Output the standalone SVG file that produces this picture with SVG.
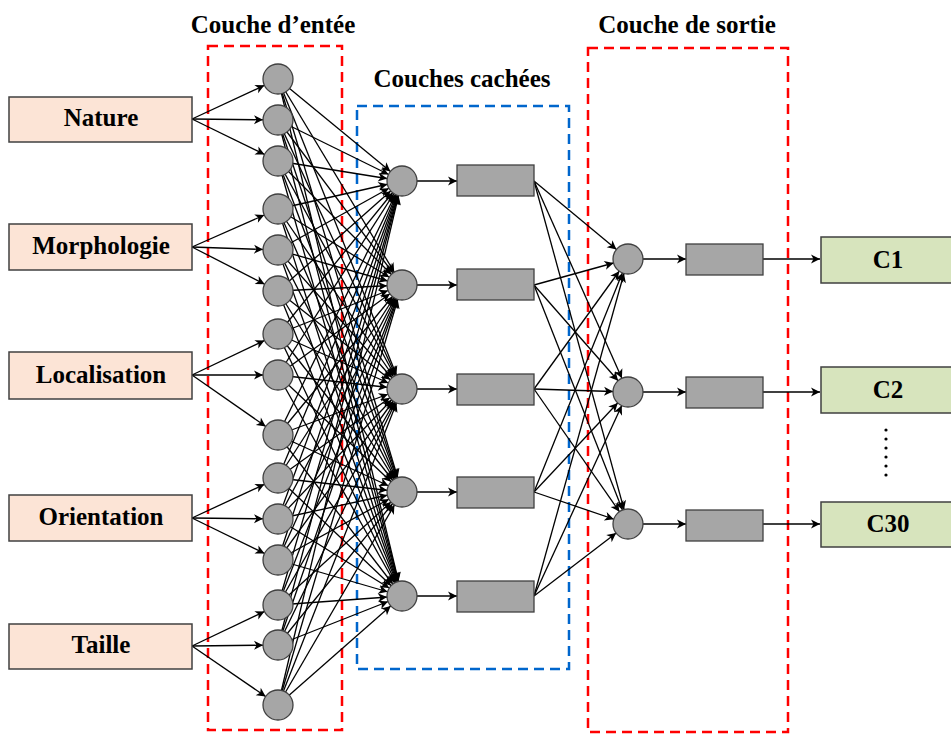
<svg xmlns="http://www.w3.org/2000/svg" width="951" height="734" viewBox="0 0 951 734">
<style>
.t{font-family:"Liberation Serif","Times New Roman",serif;font-weight:bold;font-size:25px;fill:#000;text-anchor:middle;dominant-baseline:central}
.in{fill:#FCE4D6;stroke:#404040;stroke-width:1.5}
.out{fill:#D7E4BD;stroke:#404040;stroke-width:1.5}
.n{fill:#A6A6A6;stroke:#404040;stroke-width:1.3}
.c line{stroke:#000;stroke-width:1.3}
.ac{marker-end:url(#ac)}
.at{marker-end:url(#at)}
.red{fill:none;stroke:#FF0000;stroke-width:2.5;stroke-dasharray:10,6}
.blue{fill:none;stroke:#0066CC;stroke-width:2.5;stroke-dasharray:10,6}
</style>
<defs>
<marker id="ac" markerUnits="userSpaceOnUse" markerWidth="30" markerHeight="12" refX="25" refY="6" orient="auto"><path d="M1,1.5 L10,6 L1,10.5 L3.5,6 z" fill="#000"/></marker>
<marker id="at" markerUnits="userSpaceOnUse" markerWidth="30" markerHeight="12" refX="10" refY="6" orient="auto"><path d="M1,1.5 L10,6 L1,10.5 L3.5,6 z" fill="#000"/></marker>
</defs>
<rect width="951" height="734" fill="#fff"/>
<g id="frames">
<rect class="red" x="208" y="46" width="134" height="684"/>
<rect class="blue" x="357" y="106" width="212" height="563"/>
<rect class="red" x="588" y="48" width="200" height="684"/>
<text class="t" x="273" y="24">Couche d’entée</text>
<text class="t" x="462" y="78">Couches cachées</text>
<text class="t" x="687" y="24">Couche de sortie</text>
</g>
<g id="connectors" class="c">
<line class="ac" x1="192" y1="119" x2="278" y2="79"/>
<line class="ac" x1="192" y1="119" x2="278" y2="120"/>
<line class="ac" x1="192" y1="119" x2="278" y2="161"/>
<line class="ac" x1="192" y1="247" x2="278" y2="209"/>
<line class="ac" x1="192" y1="247" x2="278" y2="250"/>
<line class="ac" x1="192" y1="247" x2="278" y2="291"/>
<line class="ac" x1="192" y1="375" x2="278" y2="334"/>
<line class="ac" x1="192" y1="375" x2="278" y2="375"/>
<line class="ac" x1="192" y1="375" x2="278" y2="435"/>
<line class="ac" x1="192" y1="518" x2="278" y2="478"/>
<line class="ac" x1="192" y1="518" x2="278" y2="519"/>
<line class="ac" x1="192" y1="518" x2="278" y2="560"/>
<line class="ac" x1="192" y1="646" x2="278" y2="605"/>
<line class="ac" x1="192" y1="646" x2="278" y2="645"/>
<line class="ac" x1="192" y1="646" x2="278" y2="705"/>

<line class="ac" x1="278" y1="79" x2="402" y2="181"/><line class="ac" x1="278" y1="79" x2="402" y2="285"/><line class="ac" x1="278" y1="79" x2="402" y2="389"/><line class="ac" x1="278" y1="79" x2="402" y2="492"/><line class="ac" x1="278" y1="79" x2="402" y2="596"/>
<line class="ac" x1="278" y1="120" x2="402" y2="181"/><line class="ac" x1="278" y1="120" x2="402" y2="285"/><line class="ac" x1="278" y1="120" x2="402" y2="389"/><line class="ac" x1="278" y1="120" x2="402" y2="492"/><line class="ac" x1="278" y1="120" x2="402" y2="596"/>
<line class="ac" x1="278" y1="161" x2="402" y2="181"/><line class="ac" x1="278" y1="161" x2="402" y2="285"/><line class="ac" x1="278" y1="161" x2="402" y2="389"/><line class="ac" x1="278" y1="161" x2="402" y2="492"/><line class="ac" x1="278" y1="161" x2="402" y2="596"/>
<line class="ac" x1="278" y1="209" x2="402" y2="181"/><line class="ac" x1="278" y1="209" x2="402" y2="285"/><line class="ac" x1="278" y1="209" x2="402" y2="389"/><line class="ac" x1="278" y1="209" x2="402" y2="492"/><line class="ac" x1="278" y1="209" x2="402" y2="596"/>
<line class="ac" x1="278" y1="250" x2="402" y2="181"/><line class="ac" x1="278" y1="250" x2="402" y2="285"/><line class="ac" x1="278" y1="250" x2="402" y2="389"/><line class="ac" x1="278" y1="250" x2="402" y2="492"/><line class="ac" x1="278" y1="250" x2="402" y2="596"/>
<line class="ac" x1="278" y1="291" x2="402" y2="181"/><line class="ac" x1="278" y1="291" x2="402" y2="285"/><line class="ac" x1="278" y1="291" x2="402" y2="389"/><line class="ac" x1="278" y1="291" x2="402" y2="492"/><line class="ac" x1="278" y1="291" x2="402" y2="596"/>
<line class="ac" x1="278" y1="334" x2="402" y2="181"/><line class="ac" x1="278" y1="334" x2="402" y2="285"/><line class="ac" x1="278" y1="334" x2="402" y2="389"/><line class="ac" x1="278" y1="334" x2="402" y2="492"/><line class="ac" x1="278" y1="334" x2="402" y2="596"/>
<line class="ac" x1="278" y1="375" x2="402" y2="181"/><line class="ac" x1="278" y1="375" x2="402" y2="285"/><line class="ac" x1="278" y1="375" x2="402" y2="389"/><line class="ac" x1="278" y1="375" x2="402" y2="492"/><line class="ac" x1="278" y1="375" x2="402" y2="596"/>
<line class="ac" x1="278" y1="435" x2="402" y2="181"/><line class="ac" x1="278" y1="435" x2="402" y2="285"/><line class="ac" x1="278" y1="435" x2="402" y2="389"/><line class="ac" x1="278" y1="435" x2="402" y2="492"/><line class="ac" x1="278" y1="435" x2="402" y2="596"/>
<line class="ac" x1="278" y1="478" x2="402" y2="181"/><line class="ac" x1="278" y1="478" x2="402" y2="285"/><line class="ac" x1="278" y1="478" x2="402" y2="389"/><line class="ac" x1="278" y1="478" x2="402" y2="492"/><line class="ac" x1="278" y1="478" x2="402" y2="596"/>
<line class="ac" x1="278" y1="519" x2="402" y2="181"/><line class="ac" x1="278" y1="519" x2="402" y2="285"/><line class="ac" x1="278" y1="519" x2="402" y2="389"/><line class="ac" x1="278" y1="519" x2="402" y2="492"/><line class="ac" x1="278" y1="519" x2="402" y2="596"/>
<line class="ac" x1="278" y1="560" x2="402" y2="181"/><line class="ac" x1="278" y1="560" x2="402" y2="285"/><line class="ac" x1="278" y1="560" x2="402" y2="389"/><line class="ac" x1="278" y1="560" x2="402" y2="492"/><line class="ac" x1="278" y1="560" x2="402" y2="596"/>
<line class="ac" x1="278" y1="605" x2="402" y2="181"/><line class="ac" x1="278" y1="605" x2="402" y2="285"/><line class="ac" x1="278" y1="605" x2="402" y2="389"/><line class="ac" x1="278" y1="605" x2="402" y2="492"/><line class="ac" x1="278" y1="605" x2="402" y2="596"/>
<line class="ac" x1="278" y1="645" x2="402" y2="181"/><line class="ac" x1="278" y1="645" x2="402" y2="285"/><line class="ac" x1="278" y1="645" x2="402" y2="389"/><line class="ac" x1="278" y1="645" x2="402" y2="492"/><line class="ac" x1="278" y1="645" x2="402" y2="596"/>
<line class="ac" x1="278" y1="705" x2="402" y2="181"/><line class="ac" x1="278" y1="705" x2="402" y2="285"/><line class="ac" x1="278" y1="705" x2="402" y2="389"/><line class="ac" x1="278" y1="705" x2="402" y2="492"/><line class="ac" x1="278" y1="705" x2="402" y2="596"/>

<line class="at" x1="417" y1="181" x2="457" y2="181"/>
<line class="at" x1="417" y1="285" x2="457" y2="285"/>
<line class="at" x1="417" y1="389" x2="457" y2="389"/>
<line class="at" x1="417" y1="492" x2="457" y2="492"/>
<line class="at" x1="417" y1="596" x2="457" y2="596"/>

<line class="ac" x1="534" y1="181" x2="628" y2="259"/><line class="ac" x1="534" y1="181" x2="628" y2="392"/><line class="ac" x1="534" y1="181" x2="628" y2="524"/>
<line class="ac" x1="534" y1="285" x2="628" y2="259"/><line class="ac" x1="534" y1="285" x2="628" y2="392"/><line class="ac" x1="534" y1="285" x2="628" y2="524"/>
<line class="ac" x1="534" y1="389" x2="628" y2="259"/><line class="ac" x1="534" y1="389" x2="628" y2="392"/><line class="ac" x1="534" y1="389" x2="628" y2="524"/>
<line class="ac" x1="534" y1="492" x2="628" y2="259"/><line class="ac" x1="534" y1="492" x2="628" y2="392"/><line class="ac" x1="534" y1="492" x2="628" y2="524"/>
<line class="ac" x1="534" y1="596" x2="628" y2="259"/><line class="ac" x1="534" y1="596" x2="628" y2="392"/><line class="ac" x1="534" y1="596" x2="628" y2="524"/>

<line class="at" x1="643" y1="259" x2="686" y2="259"/>
<line class="at" x1="643" y1="392" x2="686" y2="392"/>
<line class="at" x1="643" y1="524" x2="686" y2="524"/>
<line class="at" x1="763" y1="259" x2="820" y2="259"/>
<line class="at" x1="763" y1="392" x2="820" y2="392"/>
<line class="at" x1="763" y1="524" x2="820" y2="524"/>
</g>
<g id="input-nature"><rect class="in" x="9" y="97" width="183" height="45"/><text class="t" x="101" y="117">Nature</text></g>
<g id="input-morphologie"><rect class="in" x="9" y="224" width="183" height="46"/><text class="t" x="101" y="245">Morphologie</text></g>
<g id="input-localisation"><rect class="in" x="9" y="352" width="183" height="47"/><text class="t" x="101" y="374">Localisation</text></g>
<g id="input-orientation"><rect class="in" x="9" y="495" width="183" height="46"/><text class="t" x="101" y="516">Orientation</text></g>
<g id="input-taille"><rect class="in" x="9" y="624" width="183" height="45"/><text class="t" x="101" y="644">Taille</text></g>
<g id="input-neurons">
<circle class="n" cx="278" cy="79" r="15"/><circle class="n" cx="278" cy="120" r="15"/><circle class="n" cx="278" cy="161" r="15"/>
<circle class="n" cx="278" cy="209" r="15"/><circle class="n" cx="278" cy="250" r="15"/><circle class="n" cx="278" cy="291" r="15"/>
<circle class="n" cx="278" cy="334" r="15"/><circle class="n" cx="278" cy="375" r="15"/><circle class="n" cx="278" cy="435" r="15"/>
<circle class="n" cx="278" cy="478" r="15"/><circle class="n" cx="278" cy="519" r="15"/><circle class="n" cx="278" cy="560" r="15"/>
<circle class="n" cx="278" cy="605" r="15"/><circle class="n" cx="278" cy="645" r="15"/><circle class="n" cx="278" cy="705" r="15"/>
</g>
<g id="hidden-neurons">
<circle class="n" cx="402" cy="181" r="15"/><circle class="n" cx="402" cy="285" r="15"/><circle class="n" cx="402" cy="389" r="15"/><circle class="n" cx="402" cy="492" r="15"/><circle class="n" cx="402" cy="596" r="15"/>
<rect class="n" x="457" y="165" width="77" height="31"/><rect class="n" x="457" y="269" width="77" height="31"/><rect class="n" x="457" y="374" width="77" height="31"/><rect class="n" x="457" y="477" width="77" height="31"/><rect class="n" x="457" y="581" width="77" height="31"/>
</g>
<g id="output-neurons">
<circle class="n" cx="628" cy="259" r="15"/><circle class="n" cx="628" cy="392" r="15"/><circle class="n" cx="628" cy="524" r="15"/>
<rect class="n" x="686" y="244" width="77" height="31"/><rect class="n" x="686" y="377" width="77" height="31"/><rect class="n" x="686" y="510" width="77" height="31"/>
</g>
<g id="out-c1"><rect class="out" x="821" y="237" width="140" height="46"/><text class="t" x="888" y="259">C1</text></g>
<g id="out-c2"><rect class="out" x="821" y="367" width="140" height="46"/><text class="t" x="888" y="389">C2</text></g>
<g id="out-c30"><rect class="out" x="821" y="502" width="140" height="45"/><text class="t" x="888" y="523">C30</text></g>
<g id="dots" fill="#000"><circle cx="886" cy="430" r="1.6"/><circle cx="886" cy="439" r="1.6"/><circle cx="886" cy="448" r="1.6"/><circle cx="886" cy="457" r="1.6"/><circle cx="886" cy="466" r="1.6"/><circle cx="886" cy="475" r="1.6"/></g>
</svg>
